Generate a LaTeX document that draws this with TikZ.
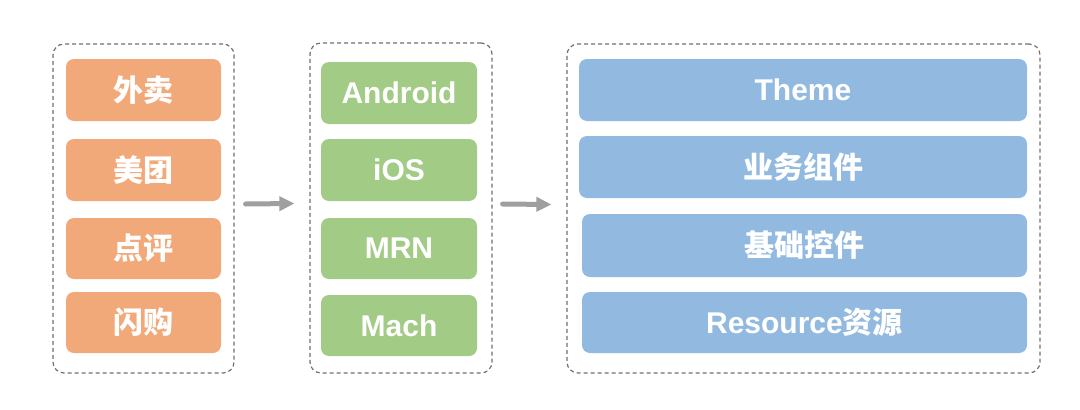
\documentclass[tikz,border=0pt]{standalone}
\usepackage{fontspec}
\setmainfont{Liberation Sans}
\newfontfamily\cjk{Noto Sans CJK SC}
\usetikzlibrary{arrows.meta}
\definecolor{orangebox}{HTML}{F2A97A}
\definecolor{greenbox}{HTML}{A2CB85}
\definecolor{bluebox}{HTML}{92BAE0}
\definecolor{dashgray}{HTML}{707070}
\definecolor{arrowgray}{HTML}{A09E9E}
\tikzset{
  item/.style={rounded corners=8pt, inner sep=0pt, text=white,
    font=\fontsize{30}{31}\selectfont\bfseries},
  obox/.style={item, fill=orangebox, minimum width=155pt, minimum height=62pt},
  gbox/.style={item, fill=greenbox, minimum width=156pt, minimum height=62pt},
  bbox/.style={item, fill=bluebox, minimum height=62pt},
  group/.style={draw=dashgray, line width=1.2pt, dash pattern=on 4pt off 3pt,
    rounded corners=11pt, inner sep=0pt},
  flow/.style={draw=arrowgray, line width=5pt, line cap=round,
    -{Triangle[length=15pt,width=14pt]}}
}
\begin{document}
\begin{tikzpicture}[x=1pt,y=-1pt]
\useasboundingbox (0,0) rectangle (1080,410);
% groups
\node[group, minimum width=181pt, minimum height=329pt] (g1) at (143.5,208.5) {};
\node[group, minimum width=182pt, minimum height=330pt] (g2) at (401,208) {};
\node[group, minimum width=473pt, minimum height=329pt] (g3) at (803.5,208.5) {};
% orange
\node[obox] (o1) at (143.5,90) {\cjk\bfseries 外卖};
\node[obox] (o2) at (143.5,170) {\cjk\bfseries 美团};
\node[obox, minimum height=61pt] (o3) at (143.5,248.5) {\cjk\bfseries 点评};
\node[obox, minimum height=61pt] (o4) at (143.5,322.5) {\cjk\bfseries 闪购};
% green
\node[gbox] (a1) at (399,93) {Android};
\node[gbox] (a2) at (399,170) {iOS};
\node[gbox, minimum height=61pt] (a3) at (399,248.5) {MRN};
\node[gbox, minimum height=61pt] (a4) at (399,325.5) {Mach};
% blue
\node[bbox, minimum width=448pt] (b1) at (803,90) {Theme};
\node[bbox, minimum width=448pt] (b2) at (803,167) {\cjk\bfseries 业务组件};
\node[bbox, minimum width=445pt, minimum height=63pt] (b3) at (804.5,245.5) {\cjk\bfseries 基础控件};
\node[bbox, minimum width=445pt, minimum height=61pt] (b4) at (804.5,322.5) {Resource{\cjk\bfseries 资源}};
% arrows
\draw[flow] ([xshift=11pt,yshift=4.5pt]g1.east) -- ([xshift=-15pt,yshift=4.5pt]g2.west);
\draw[flow] ([xshift=10pt,yshift=4pt]g2.east) -- ([xshift=-15pt,yshift=4pt]g3.west);
\end{tikzpicture}
\end{document}
